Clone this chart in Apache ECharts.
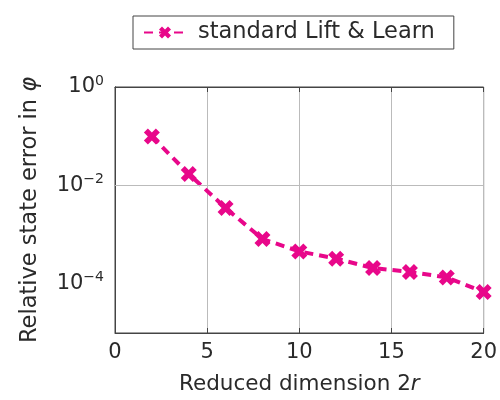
<!DOCTYPE html>
<html>
<head>
<meta charset="utf-8">
<script src="https://cdn.jsdelivr.net/npm/echarts@6/dist/echarts.min.js"></script>
<style>html,body{margin:0;padding:0;background:#fff}#c{width:500px;height:400px}</style>
</head>
<body>
<div id="c"></div>
<script>
const seriesName = 'standard Lift & Learn';
const xValues = [2, 4, 6, 8, 10, 12, 14, 16, 18, 20];
const errorValues = [0.099, 0.0171, 0.00347, 0.000814, 0.000456, 0.000324, 0.000209, 0.000174, 0.000135, 0.000068];
const xTicks = [0, 5, 10, 15, 20];
const yGridValues = [1e-2, 1e-4];

const FONT = 'DejaVu Sans';
const COLOR = '#e8078a';
const TXT = '#2a2a2a';
const crossPath = 'path://M0,2.5 L2.5,0 L5,2.5 L7.5,0 L10,2.5 L7.5,5 L10,7.5 L7.5,10 L5,7.5 L2.5,10 L0,7.5 L2.5,5 Z';

const chart = echarts.init(document.getElementById('c'), null, {renderer: 'canvas'});

function yLabel(value) {
  const e = Math.round(Math.log10(value));
  if (e % 2 !== 0) return '';
  const exp = e === 0 ? '0' : '\u2212' + (-e);
  return '{b|10}{s|' + exp + '}';
}

chart.setOption({
  animation: false,
  textStyle: {fontFamily: FONT},
  legend: {
    data: [seriesName],
    left: 133,
    top: 16,
    padding: [5, 19, 5, 10],
    itemWidth: 42,
    itemHeight: 15,
    borderColor: '#444',
    borderWidth: 1,
    borderRadius: 0,
    textStyle: {fontFamily: FONT, fontSize: 22.5, color: TXT, padding: [0, 0, 0, 7]}
  },
  grid: {left: 115, right: 14, top: 87, bottom: 67, show: true, borderColor: '#444', borderWidth: 1},
  xAxis: [{
    type: 'value', min: 0, max: 20, interval: 5,
    name: 'Reduced dimension 2{i|r}',
    nameLocation: 'middle', nameGap: 40,
    nameTextStyle: {fontFamily: FONT, fontSize: 21.5, color: TXT, rich: {i: {fontStyle: 'italic', fontFamily: FONT, fontSize: 21.5, color: TXT}}},
    axisLine: {show: true, lineStyle: {color: '#444'}},
    axisTick: {show: true, inside: true, length: 5, lineStyle: {color: '#444'}},
    axisLabel: {fontFamily: FONT, fontSize: 21, color: TXT, margin: 9},
    splitLine: {show: true, lineStyle: {color: '#bbb', width: 1}}
  }, {
    type: 'value', min: 0, max: 20, interval: 5, position: 'top',
    axisLine: {show: true, lineStyle: {color: '#444'}},
    axisTick: {show: true, inside: true, length: 5, lineStyle: {color: '#444'}},
    axisLabel: {show: false}, splitLine: {show: false}
  }],
  yAxis: [{
    type: 'log', logBase: 10, min: 1e-5, max: 1,
    name: 'Relative state error in {i|φ}',
    nameLocation: 'middle', nameGap: 73, nameRotate: 90,
    nameTextStyle: {fontFamily: FONT, fontSize: 22.5, color: TXT, padding: [0, 0, 0, 0],
      rich: {i: {fontStyle: 'italic', fontFamily: FONT, fontSize: 22.5, color: TXT}}},
    axisLine: {show: true, lineStyle: {color: '#444'}},
    axisTick: {show: false},
    axisLabel: {
      formatter: yLabel, margin: 11,
      rich: {
        b: {fontFamily: FONT, fontSize: 21, color: TXT},
        s: {fontFamily: FONT, fontSize: 14, color: TXT, padding: [0, 0, 12, 0]}
      }
    },
    splitLine: {show: false}
  }, {
    type: 'log', logBase: 10, min: 1e-5, max: 1, position: 'right',
    axisLine: {show: true, lineStyle: {color: '#444'}},
    axisTick: {show: false},
    axisLabel: {show: false}, splitLine: {show: false}
  }],
  series: [{
    name: seriesName,
    type: 'line',
    data: xValues.map((x, i) => [x, errorValues[i]]),
    symbol: crossPath,
    symbolSize: 16,
    showSymbol: true,
    lineStyle: {color: COLOR, width: 4, type: [9, 6]},
    itemStyle: {color: COLOR},
    emphasis: {disabled: true},
    markLine: {
      silent: true, symbol: 'none', label: {show: false}, animation: false,
      lineStyle: {color: '#bbb', width: 1, type: 'solid'},
      data: yGridValues.map(v => ({yAxis: v}))
    },
    z: 3
  }]
});
</script>
</body>
</html>
